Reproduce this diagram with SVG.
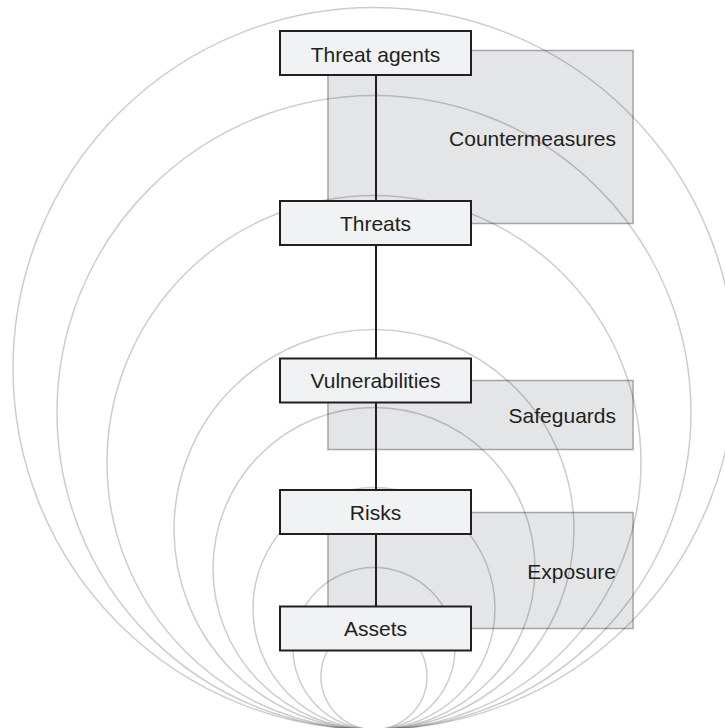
<svg xmlns="http://www.w3.org/2000/svg" width="725" height="728" viewBox="0 0 725 728">
  <style>
    .zone { fill: #e4e5e7; stroke: #a3a4a6; stroke-width: 1.5; }
    .ring { fill: none; stroke: #000; stroke-opacity: 0.2; stroke-width: 1.5; }
    .box { fill: #f1f2f4; stroke: #231f20; stroke-width: 2; }
    .label { font-family: "Liberation Sans", Arial, sans-serif; font-size: 21px; fill: #231f20; }
    .mid { text-anchor: middle; }
    .end { text-anchor: end; }
    .link { stroke: #231f20; stroke-width: 2; fill: none; }
  </style>

  <!-- shaded zones behind the chain -->
  <g id="countermeasures">
    <rect class="zone" x="328" y="50.5" width="305" height="173"/>
    <text class="label end" x="616" y="146">Countermeasures</text>
  </g>
  <g id="safeguards">
    <rect class="zone" x="328" y="380.5" width="305" height="69"/>
    <text class="label end" x="616" y="423">Safeguards</text>
  </g>
  <g id="exposure">
    <rect class="zone" x="328" y="512.5" width="305" height="116"/>
    <text class="label end" x="616" y="578.5">Exposure</text>
  </g>

  <!-- nested rings, all touching at the bottom point -->
  <g id="rings">
    <circle class="ring" cx="374" cy="368.5" r="361"/>
    <circle class="ring" cx="374" cy="412.5" r="317"/>
    <circle class="ring" cx="374" cy="462.5" r="267"/>
    <circle class="ring" cx="374" cy="529.5" r="200"/>
    <circle class="ring" cx="374" cy="568.5" r="161"/>
    <circle class="ring" cx="374" cy="608.5" r="121"/>
    <circle class="ring" cx="374" cy="648.5" r="81"/>
    <circle class="ring" cx="374" cy="676.5" r="53"/>
  </g>

  <!-- connectors -->
  <g id="connectors">
    <line class="link" x1="376" y1="75" x2="376" y2="201"/>
    <line class="link" x1="376" y1="245" x2="376" y2="358.5"/>
    <line class="link" x1="376" y1="402.5" x2="376" y2="490"/>
    <line class="link" x1="376" y1="534" x2="376" y2="606.5"/>
  </g>

  <!-- chain nodes -->
  <g id="threat-agents">
    <rect class="box" x="280" y="31" width="191" height="44"/>
    <text class="label mid" x="375.5" y="61.5">Threat agents</text>
  </g>
  <g id="threats">
    <rect class="box" x="280" y="201" width="191" height="44"/>
    <text class="label mid" x="375.5" y="230.5">Threats</text>
  </g>
  <g id="vulnerabilities">
    <rect class="box" x="280" y="358.5" width="191" height="44"/>
    <text class="label mid" x="375.5" y="387.5">Vulnerabilities</text>
  </g>
  <g id="risks">
    <rect class="box" x="280" y="490" width="191" height="44"/>
    <text class="label mid" x="375.5" y="519.5">Risks</text>
  </g>
  <g id="assets">
    <rect class="box" x="280" y="606.5" width="191" height="44"/>
    <text class="label mid" x="375.5" y="636">Assets</text>
  </g>
</svg>
